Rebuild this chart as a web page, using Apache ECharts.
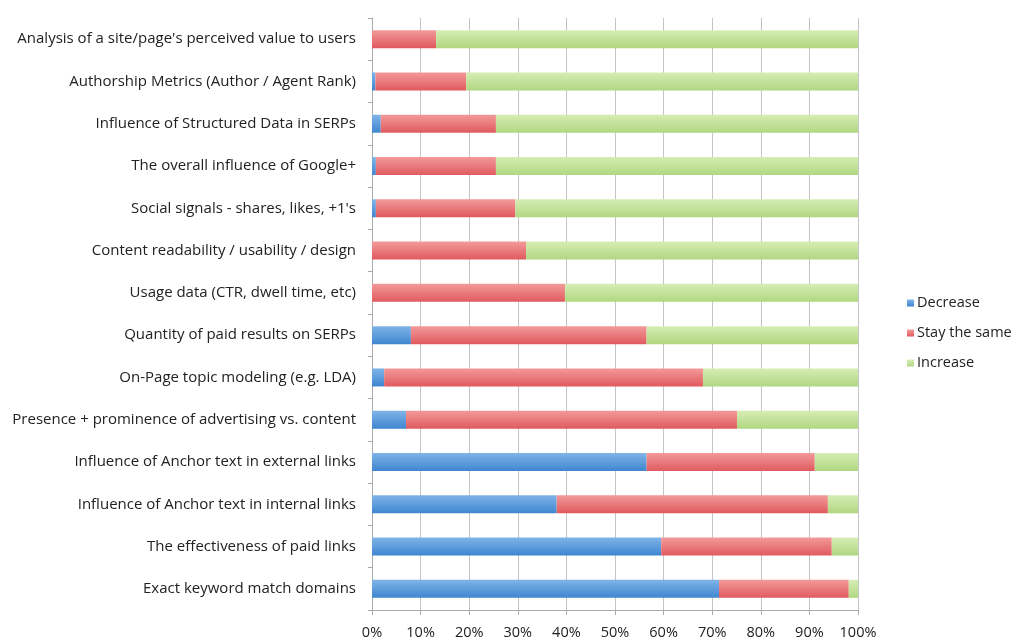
<!DOCTYPE html>
<html>
<head>
<meta charset="utf-8">
<script src="https://cdn.jsdelivr.net/npm/echarts@6/dist/echarts.min.js"></script>
<style>html,body{margin:0;padding:0;background:#fff}#c{width:1016px;height:641px}</style>
</head>
<body>
<div id="c"></div>
<script>
const categories = [
  "Analysis of a site/page's perceived value to users",
  "Authorship Metrics (Author / Agent Rank)",
  "Influence of Structured Data in SERPs",
  "The overall influence of Google+",
  "Social signals - shares, likes, +1's",
  "Content readability / usability / design",
  "Usage data (CTR, dwell time, etc)",
  "Quantity of paid results on SERPs",
  "On-Page topic modeling (e.g. LDA)",
  "Presence + prominence of advertising vs. content",
  "Influence of Anchor text in external links",
  "Influence of Anchor text in internal links",
  "The effectiveness of paid links",
  "Exact keyword match domains"
];
const decrease = [0, 0.7, 1.8, 0.8, 0.8, 0, 0, 8.0, 2.5, 7.0, 56.5, 38.0, 59.5, 71.4];
const staySame = [13.2, 18.7, 23.7, 24.7, 28.7, 31.7, 39.7, 48.5, 65.6, 68.1, 34.6, 55.8, 35.1, 26.7];
const increase = decrease.map((d, i) => +(100 - d - staySame[i]).toFixed(1));
const tickLabels = ["0%","10%","20%","30%","40%","50%","60%","70%","80%","90%","100%"];

function grad(top, bottom) {
  return new echarts.graphic.LinearGradient(0, 0, 0, 1, [
    {offset: 0, color: top}, {offset: 1, color: bottom}
  ]);
}
const font = "'Open Sans', Lato, sans-serif";
const fs = 14.5;
const chart = echarts.init(document.getElementById('c'));
chart.setOption({
  animation: false,
  textStyle: {fontFamily: font},
  grid: {left: 372, right: 158, top: 18, bottom: 31},
  legend: {
    orient: 'vertical', left: 902, top: 290, itemWidth: 7, itemHeight: 7, itemGap: 14,
    icon: 'rect',
    textStyle: {fontSize: fs, lineHeight: 16, color: '#222', fontFamily: font, padding: [0,0,0,-2]},
    data: ['Decrease', 'Stay the same', 'Increase']
  },
  xAxis: {
    type: 'value', min: 0, max: 100, interval: 10,
    axisLabel: {formatter: v => tickLabels[v / 10], fontSize: fs, color: '#222', margin: 15},
    axisLine: {show: true, lineStyle: {color: '#aaa'}},
    axisTick: {show: true, length: 5, lineStyle: {color: '#aaa'}},
    splitLine: {show: true, lineStyle: {color: '#c4c4c4', width: 1}}
  },
  yAxis: {
    type: 'category', inverse: true, data: categories,
    axisLabel: {fontSize: 15, color: '#222', margin: 16},
    axisLine: {show: true, lineStyle: {color: '#aaa'}},
    axisTick: {show: true, length: 4, inside: false, lineStyle: {color: '#aaa'}}
  },
  series: [
    {name: 'Decrease', type: 'bar', stack: 't', barWidth: 18, data: decrease,
     itemStyle: {color: grad('#7fb4e8', '#3f86d0')}},
    {name: 'Stay the same', type: 'bar', stack: 't', barWidth: 18, data: staySame,
     itemStyle: {color: grad('#f39a9a', '#e05a5e')}},
    {name: 'Increase', type: 'bar', stack: 't', barWidth: 18, data: increase,
     itemStyle: {color: grad('#d6edb4', '#b0d781')}}
  ]
});
</script>
</body>
</html>
